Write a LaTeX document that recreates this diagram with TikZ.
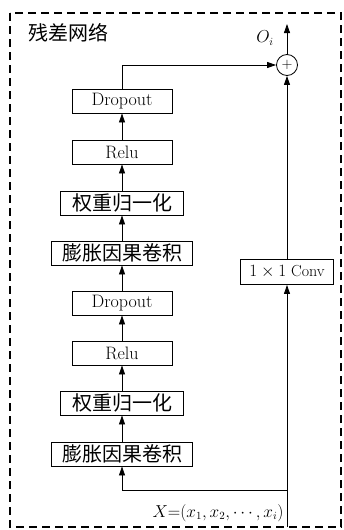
\documentclass[tikz,border=0pt]{standalone}
\usepackage{fontspec}
\newfontfamily\cjk{Noto Sans CJK SC}
\usetikzlibrary{arrows.meta}
\begin{document}
\begin{tikzpicture}[x=1pt,y=-1pt,
  box/.style={draw,line width=0.9pt,minimum height=24pt,inner sep=0pt,font=\fontsize{18}{20}\selectfont},
  cbox/.style={box,font=\cjk\fontsize{20}{22}\selectfont},
  arr/.style={line width=0.8pt,-{Triangle[length=9pt,width=6pt]}},
  lbl/.style={font=\fontsize{16}{18}\selectfont,inner sep=0pt}]
\useasboundingbox (0,0) rectangle (343,530);
\draw[line width=2.2pt,dash pattern=on 8pt off 5pt] (10,13) rectangle (341,527);
\node[cbox,draw=none] (title) at (68,33) {残差网络};
\node[box,minimum width=100pt] (d1) at (122,101) {Dropout};
\node[box,minimum width=100pt] (r1) at (122,152) {Relu};
\node[cbox,minimum width=123pt] (w1) at (122,203) {权重归一化};
\node[cbox,minimum width=141pt] (c1) at (122,253) {膨胀因果卷积};
\node[box,minimum width=100pt] (d2) at (122,303) {Dropout};
\node[box,minimum width=100pt] (r2) at (122,353) {Relu};
\node[cbox,minimum width=123pt] (w2) at (122,403) {权重归一化};
\node[cbox,minimum width=141pt] (c2) at (122,454) {膨胀因果卷积};
\node[box,minimum width=93pt,minimum height=25pt,font=\fontsize{16}{18}\selectfont] (conv) at (287,272) {$1\times 1$ Conv};
\node[draw,circle,line width=0.8pt,minimum size=21pt,inner sep=0pt,font=\fontsize{14}{16}\selectfont] (plus) at (287,65) {$+$};
\coordinate (out) at (287,24);
\coordinate (in) at (287,527);
\coordinate (turn) at (287,490);
\node[lbl] (ol) at (265,38) {$O_i$};
\node[lbl] (xl) at (218,513) {$X{=}(x_1,x_2,\cdots,x_i)$};
\draw[arr] (c2) -- (w2);
\draw[arr] (w2) -- (r2);
\draw[arr] (r2) -- (d2);
\draw[arr] (d2) -- (c1);
\draw[arr] (c1) -- (w1);
\draw[arr] (w1) -- (r1);
\draw[arr] (r1) -- (d1);
\draw[arr] (d1.north) |- (plus.west);
\draw[arr] (in) -- (conv.south);
\draw[arr] (conv) -- (plus);
\draw[arr] (plus) -- (out);
\draw[arr] (turn) -| (c2.south);
\end{tikzpicture}
\end{document}
